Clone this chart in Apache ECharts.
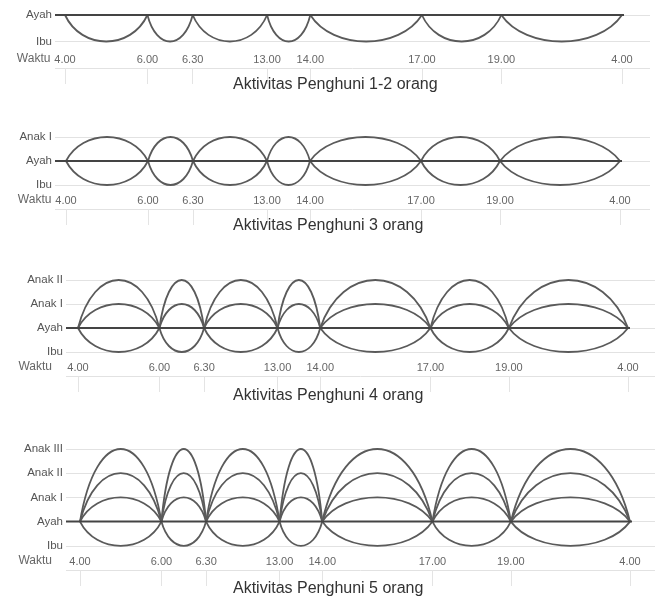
<!DOCTYPE html>
<html>
<head>
<meta charset="utf-8">
<script src="https://cdn.jsdelivr.net/npm/echarts@6/dist/echarts.min.js"></script>
<style>
  html, body { margin: 0; padding: 0; background: #fff; }
  #chart { width: 655px; height: 599px; }
</style>
</head>
<body>
<div id="chart"></div>
<script>
// waktu (jam) dan posisi titiknya di sumbu x (jarak tidak proporsional waktu)
const timeLabels = ['4.00', '6.00', '6.30', '13.00', '14.00', '17.00', '19.00', '4.00']
const timePos = [0, 82, 127, 201, 244, 355, 434, 554]

// nama baris: level -1 = Ibu, 0 = Ayah, 1.. = Anak
const rowNames = ['Ibu', 'Ayah', 'Anak I', 'Anak II', 'Anak III']

const panelTitles = [
  'Aktivitas Penghuni 1-2 orang',
  'Aktivitas Penghuni 3 orang',
  'Aktivitas Penghuni 4 orang',
  'Aktivitas Penghuni 5 orang',
]
const panelTopLevel = [0, 1, 2, 3]
// puncak busur tiap penghuni (selain Ayah) per panel
const panelArcs = [[-1], [-1, 1], [-1, 1, 2], [-1, 1, 2, 3]]

// tata letak tiap panel (piksel)
const layout = [
  { left: 55, x0: 65, x1: 622, right: 650, top: 15, step: 26.5, titleTop: 77 },
  { left: 55, x0: 66, x1: 620, right: 650, top: 137, step: 24, titleTop: 218 },
  { left: 66, x0: 78, x1: 628, right: 655, top: 280, step: 24, titleTop: 388 },
  { left: 66, x0: 80, x1: 630, right: 655, top: 449, step: 24.2, titleTop: 581 },
]

const font = "'Liberation Sans', Arial, sans-serif"
const lastPos = timePos[timePos.length - 1]

const grids = []
const xAxes = []
const yAxes = []
const series = []
const titles = []

layout.forEach((L, i) => {
  const scale = (L.x1 - L.x0) / lastPos
  const xMin = -(L.x0 - L.left) / scale
  const xMax = (L.right - L.x0) / scale
  const nTop = panelTopLevel[i]

  grids.push({
    left: L.left,
    width: L.right - L.left,
    top: L.top,
    height: (nTop + 2) * L.step,
  })

  xAxes.push({
    gridIndex: i,
    type: 'value',
    min: xMin,
    max: xMax,
    axisLine: { show: false, onZero: false },
    axisTick: {
      show: true,
      customValues: timePos,
      length: 16,
      lineStyle: { color: '#e4e4e4' },
    },
    axisLabel: {
      inside: true,
      customValues: timePos,
      margin: 3,
      color: '#666',
      fontSize: 11,
      fontFamily: font,
      formatter: (v) => timeLabels[timePos.indexOf(Number(v))] || '',
    },
    splitLine: { show: false },
    name: 'Waktu',
    nameLocation: 'start',
    nameGap: L.left - 52,
    nameTextStyle: {
      color: '#666',
      fontSize: 12,
      fontFamily: font,
      verticalAlign: 'bottom',
      padding: [0, 0, 3, 0],
    },
  })

  yAxes.push({
    gridIndex: i,
    type: 'value',
    min: -2,
    max: nTop,
    interval: 1,
    axisLine: { show: false },
    axisTick: { show: false },
    axisLabel: {
      margin: 3,
      color: '#555',
      fontSize: 11.5,
      fontFamily: font,
      formatter: (v) => (v < -1 ? '' : rowNames[v + 1]),
    },
    splitLine: { lineStyle: { color: '#e2e2e2', width: 1 } },
  })

  // busur aktivitas
  const arcData = []
  panelArcs[i].forEach((lvl) => {
    for (let s = 0; s < timePos.length - 1; s++) {
      arcData.push([timePos[s], timePos[s + 1], lvl])
    }
  })

  series.push({
    type: 'custom',
    xAxisIndex: i,
    yAxisIndex: i,
    clip: false,
    silent: true,
    z: 2,
    data: arcData,
    encode: { x: [0, 1], y: 2 },
    renderItem: (params, api) => {
      const a = api.value(0)
      const b = api.value(1)
      const lvl = api.value(2)
      const p0 = api.coord([a, 0])
      const p1 = api.coord([b, 0])
      const pk = api.coord([(a + b) / 2, lvl])
      const w = p1[0] - p0[0]
      const c = ((pk[1] - p0[1]) * 4) / 3
      const k = 0.2
      const d = `M${p0[0]},${p0[1]} C${p0[0] + k * w},${p0[1] + c} ${p1[0] - k * w},${p1[1] + c} ${p1[0]},${p1[1]}`
      return {
        type: 'path',
        shape: { pathData: d },
        style: { fill: null, stroke: '#5a5a5a', lineWidth: 1.8 },
      }
    },
  })

  // garis Ayah
  series.push({
    type: 'line',
    xAxisIndex: i,
    yAxisIndex: i,
    data: [[xMin, 0], [lastPos + 2, 0]],
    symbol: 'none',
    silent: true,
    z: 3,
    lineStyle: { color: '#444', width: 2 },
  })

  titles.push({
    text: panelTitles[i],
    left: 233,
    top: L.titleTop,
    padding: 0,
    textStyle: { color: '#333', fontSize: 16, fontWeight: 'normal', fontFamily: font },
  })
})

const chart = echarts.init(document.getElementById('chart'))
chart.setOption({
  animation: false,
  backgroundColor: '#fff',
  title: titles,
  grid: grids,
  xAxis: xAxes,
  yAxis: yAxes,
  series: series,
})
window.addEventListener('resize', () => chart.resize())
</script>
</body>
</html>
